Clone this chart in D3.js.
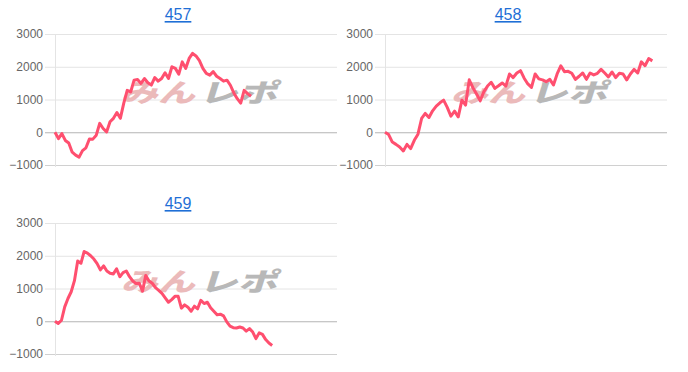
<!DOCTYPE html>
<html>
<head>
<meta charset="utf-8">
<script src="https://cdn.jsdelivr.net/npm/d3@7"></script>
<style>
body{margin:0;background:#fff;}
svg text{font-family:"Liberation Sans",Arial,sans-serif;}
</style>
</head>
<body>
<svg id="chart" width="688" height="372"></svg>
<script>
// data
var titles = ["457", "458", "459"];
var yTicks = [-1000, 0, 1000, 2000, 3000];
// slots on the (unlabelled) x axis for each chart
var axisLength = [82, 77, 87];

var series457 = [0,-195,-40,-250,-330,-610,-700,-760,-560,-475,-205,-210,-90,270,115,10,320,425,600,425,
    890,1280,1230,1590,1610,1490,1640,1510,1440,1670,1560,1640,1815,1640,2000,1950,1775,2150,1950,2255,
    2410,2330,2185,1950,1795,1745,1850,1710,1640,1560,1590,1435,1200,1025,890,1280,1180,1100];
var series458 = [0,-70,-300,-370,-450,-570,-370,-500,-245,-60,420,575,450,655,800,900,980,760,490,645,
    470,980,830,1600,1360,1170,960,1240,1410,1525,1340,1420,1505,1410,1780,1670,1810,1880,1650,1475,
    1370,1780,1630,1600,1545,1615,1445,1780,2030,1850,1860,1800,1615,1710,1810,1615,1810,1750,1800,1920,
    1810,1690,1840,1670,1800,1780,1600,1780,1920,1810,2150,2030,2250,2180];
var series459 = [0,-70,30,440,695,900,1240,1840,1770,2130,2080,2000,1900,1760,1570,1690,1535,1465,1445,
    1600,1360,1485,1535,1360,1230,1150,1160,920,1400,1230,1160,1025,945,850,715,580,660,760,760,
    400,500,430,305,460,380,640,540,580,410,305,195,215,165,-20,-150,-195,-205,-175,-205,
    -300,-225,-330,-530,-355,-400,-560,-665,-740];

var allSeries = [series457, series458, series459];

//plot area origins (top-left)
var panels = [[55, 34], [385, 34], [55, 223]];
var plotW = 282, plotH = 131;

var svg = d3.select("#chart");

function drawChart(idx){
    var left = panels[idx][0], top = panels[idx][1];
    var values = allSeries[idx];

    var g = svg.append("g").attr("transform", "translate(" + left + "," + top + ")");

    var x = d3.scaleLinear().domain([0, axisLength[idx]]).range([0, plotW]);
    var y = d3.scaleLinear().domain([-1000, 3000]).range([plotH, 0]);

    // y axis + grid lines (tick lines run out past the axis like chart.js)
    var axis = d3.axisLeft(y)
        .tickValues(yTicks)
        .tickSizeInner(-(plotW + 10))
        .tickSizeOuter(0)
        .tickPadding(2)
        .tickFormat(d3.format("d"));

    var ag = g.append("g")
        .attr("transform", "translate(-10,0)")
        .call(axis);
    ag.select(".domain").remove();
    ag.selectAll(".tick line")
        .attr("stroke", function(d){ return d === 0 ? "#b4b4b4" : (d === -1000 ? "#d0d0d0" : "#e4e4e4"); })
        .attr("stroke-width", 1);
    ag.selectAll(".tick text")
        .attr("fill", "#666")
        .style("font-size", "12px");

    // left axis line
    g.append("line")
        .attr("x1", 0.5).attr("x2", 0.5)
        .attr("y1", y(3000)).attr("y2", y(-1000) + 2)
        .attr("stroke", "#e4e4e4");

    // title (link style)
    svg.append("text")
        .attr("x", left + 123)
        .attr("y", top - 14)
        .attr("text-anchor", "middle")
        .attr("fill", "#1f6fd6")
        .style("font-size", "16px")
        .style("text-decoration", "underline")
        .text(titles[idx]);

    // watermark logo (squashed, slanted)
    var wm = g.append("g")
        .attr("transform", "translate(60," + (56 + 12) + ") scale(1,0.8) skewX(-14)");
    wm.append("text")
        .attr("x", 6).attr("y", 0)
        .attr("textLength", 74)
        .attr("lengthAdjust", "spacingAndGlyphs")
        .attr("fill", "#ebbaba")
        .style("font-family", "'Noto Sans CJK JP'")
        .style("font-weight", 900)
        .style("font-size", "32px")
        .text("みん");
    wm.append("text")
        .attr("x", 84).attr("y", 0)
        .attr("textLength", 78)
        .attr("lengthAdjust", "spacingAndGlyphs")
        .attr("fill", "#b8b8b8")
        .style("font-family", "'Noto Sans CJK JP'")
        .style("font-weight", 900)
        .style("font-size", "32px")
        .text("レポ");

    var line = d3.line()
        .x(function(d, i){ return x(i); })
        .y(function(d){ return y(d); });

    g.append("path")
        .datum(values)
        .attr("d", line)
        .attr("fill", "none")
        .attr("stroke", "#ff4f6f")
        .attr("stroke-width", 3)
        .attr("stroke-linejoin", "round");
}

for(var i = 0; i < allSeries.length; i++){
    drawChart(i);
}
</script>
</body>
</html>
